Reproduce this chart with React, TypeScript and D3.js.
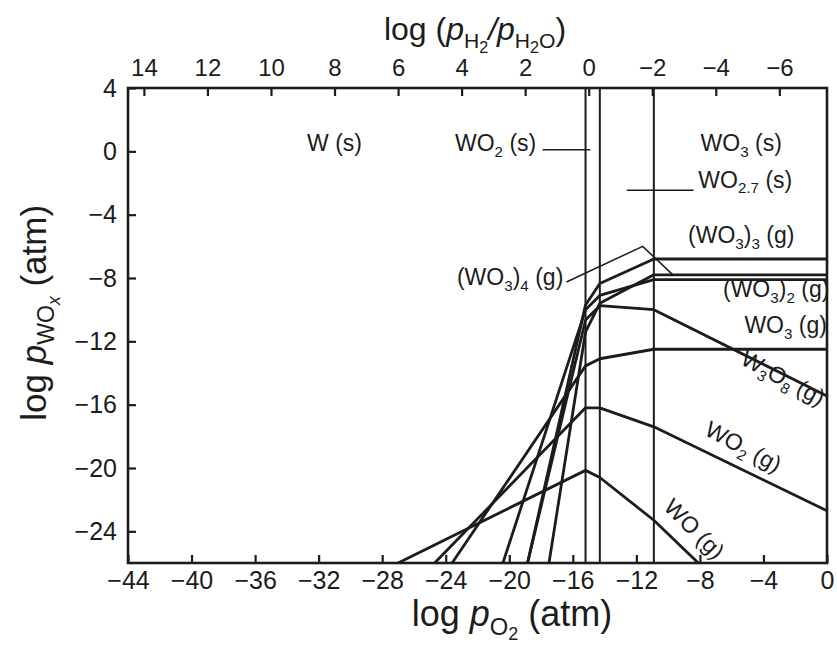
import React, { useEffect, useRef } from 'react'
import * as d3 from 'd3'

// bottom axis: log pO2 (atm), left axis: log pWOx (atm), top axis: log(pH2/pH2O)
const xDomain = [-44, 0]
const yDomain = [-26, 4]
const topDomain = [14.5, -7.5]
const xTicks = [-44, -40, -36, -32, -28, -24, -20, -16, -12, -8, -4, 0]
const yTicks = [4, 0, -4, -8, -12, -16, -20, -24]
const topTicks = [14, 12, 10, 8, 6, 4, 2, 0, -2, -4, -6]

// solid phase boundaries: W/WO2, WO2/WO2.72, WO2.72/WO3
const phaseBounds = [-15.2, -14.3, -10.9]

// gas species, [log pO2, log p]
const wo = [[-27.0, -26], [-15.2, -20.15], [-14.3, -20.6], [-10.9, -23.3], [-8.1, -26]]
const wo2 = [[-24.7, -26], [-15.2, -16.2], [-14.3, -16.2], [-10.9, -17.4], [0, -22.7]]
const wo3 = [[-23.6, -26], [-15.2, -13.55], [-14.3, -13.1], [-10.9, -12.5], [0, -12.5]]
const w3o8 = [[-18.85, -26], [-15.2, -10.65], [-14.3, -9.75], [-10.9, -10.0], [0, -15.45]]
const wo3Dimer = [[-20.4, -26], [-15.2, -10.0], [-14.3, -9.1], [-10.9, -8.1], [0, -8.1]]
const wo3Trimer = [[-18.85, -26], [-15.2, -9.7], [-14.3, -8.35], [-10.9, -6.8], [0, -6.8]]
const wo3Tetramer = [[-17.5, -26], [-15.2, -11.4], [-14.3, -9.6], [-10.9, -7.8], [0, -7.8]]

const series = [wo, wo2, wo3, w3o8, wo3Dimer, wo3Trimer, wo3Tetramer]

// leader lines for labels
const leaderWO2s = [[-17.9, 0.1], [-14.9, 0.1]]
const leaderWO27s = [[-12.6, -2.45], [-8.4, -2.45]]
const leaderTetramer = [[-16.4, -8.25], [-11.6, -6.0], [-9.7, -7.8]]

// labels: parts, position (log pO2, log p), anchor, rotation
const labels = [
  { parts: [{ t: 'W (s)' }], at: [-31.0, 0], anchor: 'middle', rot: 0 },
  { parts: [{ t: 'WO' }, { t: '2', lv: 1 }, { t: ' (s)' }], at: [-18.3, 0], anchor: 'end', rot: 0 },
  { parts: [{ t: 'WO' }, { t: '3', lv: 1 }, { t: ' (s)' }], at: [-5.4, 0], anchor: 'middle', rot: 0 },
  { parts: [{ t: 'WO' }, { t: '2.7', lv: 1 }, { t: ' (s)' }], at: [-8.1, -2.3], anchor: 'start', rot: 0 },
  { parts: [{ t: '(WO' }, { t: '3', lv: 1 }, { t: ')' }, { t: '3', lv: 1 }, { t: ' (g)' }], at: [-5.4, -5.8], anchor: 'middle', rot: 0 },
  { parts: [{ t: '(WO' }, { t: '3', lv: 1 }, { t: ')' }, { t: '2', lv: 1 }, { t: ' (g)' }], at: [-3.2, -9.2], anchor: 'middle', rot: 0 },
  { parts: [{ t: 'WO' }, { t: '3', lv: 1 }, { t: ' (g)' }], at: [-2.6, -11.5], anchor: 'middle', rot: 0 },
  { parts: [{ t: '(WO' }, { t: '3', lv: 1 }, { t: ')' }, { t: '4', lv: 1 }, { t: ' (g)' }], at: [-16.6, -8.45], anchor: 'end', rot: 0 },
  { parts: [{ t: 'W' }, { t: '3', lv: 1 }, { t: 'O' }, { t: '8', lv: 1 }, { t: '  (g)' }], at: [-3.0, -14.75], anchor: 'middle', rot: 28 },
  { parts: [{ t: 'WO' }, { t: '2', lv: 1 }, { t: '  (g)' }], at: [-5.5, -19.1], anchor: 'middle', rot: 28 },
  { parts: [{ t: 'WO (g)' }], at: [-8.7, -24.2], anchor: 'middle', rot: 45 },
]

const FONT = '"Liberation Sans", Arial, Helvetica, sans-serif'
const INK = '#1c1c1c'

type Part = { t: string, lv?: number, it?: boolean }

const rich = (sel: any, parts: Part[], size: number) => {
  let cur = 0
  parts.forEach(p => {
    const lv = p.lv || 0
    const shift = lv === 0 ? 0 : lv === 1 ? size * 0.24 : size * 0.4
    const fs = lv === 0 ? size : lv === 1 ? size * 0.66 : size * 0.5
    sel.append('tspan')
      .text(p.t)
      .attr('dy', shift - cur)
      .attr('font-size', fs)
      .attr('font-style', p.it ? 'italic' : null)
    cur = shift
  })
}

const App = () => {
  const ref = useRef<SVGSVGElement>(null)

  useEffect(() => {
    drawChart()
  }, [])

  const drawChart = () => {
    const width = 837
    const height = 659
    const svg = d3.select(ref.current)
    svg.selectAll('*').remove()
    svg.attr('width', width).attr('height', height)

    const x = d3.scaleLinear().domain(xDomain).range([128, 827])
    const y = d3.scaleLinear().domain(yDomain).range([563, 88])
    const xTop = d3.scaleLinear().domain(topDomain).range([128, 827])

    svg.append('rect').attr('width', width).attr('height', height).attr('fill', '#fff')

    svg.append('clipPath').attr('id', 'plot')
      .append('rect')
      .attr('x', x(-44)).attr('y', y(4))
      .attr('width', x(0) - x(-44)).attr('height', y(-26) - y(4))

    const styleAxis = (g: any, size: number) => {
      g.select('.domain').remove()
      g.attr('font-size', size).attr('font-family', FONT)
      g.selectAll('text').attr('fill', INK)
      g.selectAll('line').attr('stroke', INK).attr('stroke-width', 2.2)
    }

    const gx = svg.append('g')
      .attr('transform', `translate(0,${y(-26)})`)
      .call(d3.axisBottom(x).tickValues(xTicks).tickSizeInner(-8).tickSizeOuter(0).tickPadding(8).tickFormat(d3.format('d')))
    styleAxis(gx, 25)

    const gy = svg.append('g')
      .attr('transform', `translate(${x(-44)},0)`)
      .call(d3.axisLeft(y).tickValues(yTicks).tickSizeInner(-8).tickSizeOuter(0).tickPadding(11).tickFormat(d3.format('d')))
    styleAxis(gy, 25)

    const gt = svg.append('g')
      .attr('transform', `translate(0,${y(4)})`)
      .call(d3.axisTop(xTop).tickValues(topTicks).tickSizeInner(-8).tickSizeOuter(0).tickPadding(12).tickFormat(d3.format('d')))
    styleAxis(gt, 24)

    // frame
    svg.append('rect')
      .attr('x', x(-44)).attr('y', y(4))
      .attr('width', x(0) - x(-44)).attr('height', y(-26) - y(4))
      .attr('fill', 'none').attr('stroke', INK).attr('stroke-width', 2.6)

    const plot = svg.append('g').attr('clip-path', 'url(#plot)')

    // phase boundaries
    plot.selectAll('line.bound')
      .data(phaseBounds)
      .enter()
      .append('line')
      .attr('class', 'bound')
      .attr('x1', d => x(d)).attr('x2', d => x(d))
      .attr('y1', y(4)).attr('y2', y(-26))
      .attr('stroke', INK).attr('stroke-width', 2)

    const line = d3.line<number[]>().x(d => x(d[0])).y(d => y(d[1]))

    plot.selectAll('path.species')
      .data(series)
      .enter()
      .append('path')
      .attr('class', 'species')
      .attr('d', d => line(d))
      .attr('fill', 'none')
      .attr('stroke', INK)
      .attr('stroke-width', 2.8)
      .attr('stroke-linejoin', 'round')

    plot.selectAll('path.leader')
      .data([leaderWO2s, leaderWO27s, leaderTetramer])
      .enter()
      .append('path')
      .attr('class', 'leader')
      .attr('d', d => line(d))
      .attr('fill', 'none')
      .attr('stroke', INK)
      .attr('stroke-width', 1.5)

    // labels
    labels.forEach(l => {
      const px = x(l.at[0])
      const py = y(l.at[1])
      const t = svg.append('text')
        .attr('transform', `translate(${px},${py}) rotate(${l.rot})`)
        .attr('text-anchor', l.anchor)
        .attr('dy', '0.35em')
        .attr('font-family', FONT)
        .attr('fill', INK)
      rich(t, l.parts, 23)
    })

    // axis titles
    const top = svg.append('text')
      .attr('x', 475).attr('y', 40)
      .attr('text-anchor', 'middle')
      .attr('font-family', FONT).attr('fill', INK)
    rich(top, [
      { t: 'log (' }, { t: 'p', it: true }, { t: 'H', lv: 1 }, { t: '2', lv: 2 },
      { t: '/', it: true }, { t: 'p', it: true }, { t: 'H', lv: 1 }, { t: '2', lv: 2 }, { t: 'O', lv: 1 }, { t: ')' },
    ], 32)

    const bottom = svg.append('text')
      .attr('x', 512).attr('y', 626)
      .attr('text-anchor', 'middle')
      .attr('font-family', FONT).attr('fill', INK)
    rich(bottom, [{ t: 'log ' }, { t: 'p', it: true }, { t: 'O', lv: 1 }, { t: '2', lv: 2 }, { t: ' (atm)' }], 36)

    const left = svg.append('text')
      .attr('transform', `translate(46,${y(-10.2)}) rotate(-90)`)
      .attr('text-anchor', 'middle')
      .attr('font-family', FONT).attr('fill', INK)
    rich(left, [{ t: 'log ' }, { t: 'p', it: true }, { t: 'WO', lv: 1 }, { t: 'x', lv: 2, it: true }, { t: ' (atm)' }], 35)
  }

  return (
    <div style={{ position: 'absolute', left: 0, top: 0 }}>
      <svg ref={ref} style={{ display: 'block' }}></svg>
    </div>
  )
}

export default App
